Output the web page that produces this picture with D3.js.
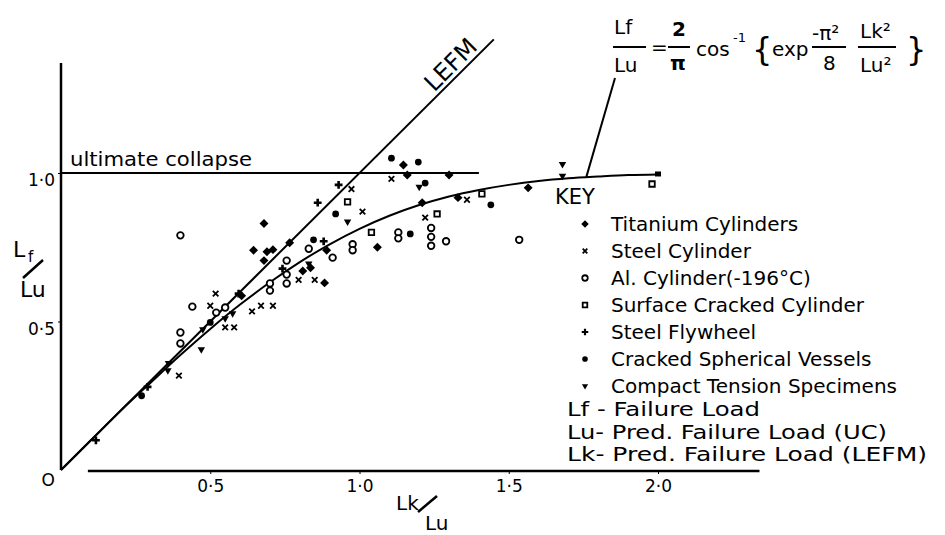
<!DOCTYPE html>
<html><head>
<meta charset="utf-8">
<title>Failure load vs predicted load</title>
<script src="https://d3js.org/d3.v7.min.js"></script>
<style>
body { margin: 0; background: #fff; }
svg { display: block; }
text { font-family: "DejaVu Sans", sans-serif; fill: #000; }
</style>
</head>
<body>
<svg id="chart" width="945" height="535"></svg>
<script>
// data (Lk/Lu, Lf/Lu)
const titanium = [[0.68,0.83],[0.645,0.74],[0.69,0.735],[0.71,0.742],[0.68,0.705],[0.605,0.587],
  [0.766,0.765],[0.89,0.74],[0.81,0.67],[0.836,0.681],[0.883,0.63],[1.06,0.75],[1.147,1.027],
  [1.16,0.993],[1.30,0.993],[1.21,0.90],[1.33,0.917],[1.565,0.95]];
const steelCyl = [[0.518,0.594],[0.50,0.553],[0.55,0.48],[0.58,0.48],[0.64,0.534],[0.67,0.553],
  [0.71,0.553],[0.395,0.318],[0.796,0.64],[0.85,0.64],[0.973,0.946],[1.01,0.87],[1.22,0.85],
  [1.36,0.91],[1.107,0.98]];
const alCyl = [[0.40,0.79],[0.44,0.55],[0.52,0.53],[0.55,0.547],[0.40,0.463],[0.40,0.426],
  [0.756,0.705],[0.756,0.658],[0.756,0.628],[0.70,0.628],[0.70,0.604],[0.83,0.745],[0.91,0.715],
  [0.977,0.76],[0.977,0.74],[1.13,0.80],[1.13,0.78],[1.24,0.815],[1.24,0.785],[1.24,0.755],
  [1.29,0.77],[1.535,0.775]];
const surfCyl = [[0.96,0.903],[1.04,0.80],[1.26,0.862],[1.41,0.93],[1.98,0.963]];
const flywheel = [[0.117,0.10],[0.29,0.28],[0.86,0.90],[0.93,0.96],[0.88,0.77],[0.595,0.594],[0.742,0.678]];
const spherical = [[0.846,0.775],[0.92,0.862],[1.44,0.893],[1.107,1.05],[1.197,1.037],[1.17,0.795],
  [0.27,0.25],[0.50,0.497],[1.22,0.966]];
const compact = [[0.575,0.527],[0.47,0.406],[0.96,0.836],[0.83,0.695],[0.36,0.36],[0.358,0.335],
  [1.68,1.03],[1.68,0.99],[1.20,0.953],[0.475,0.473],[0.55,0.51]];

// theoretical curve
const curveX = [0,0.1,0.2,0.3,0.4,0.5,0.6,0.7,0.8,0.9,1.0,1.1,1.2,1.3,1.4,1.5,1.6,1.7,1.8,1.9,2.0];
const curveY = [0,0.10,0.20,0.294,0.387,0.475,0.557,0.632,0.700,0.760,0.812,0.856,0.892,0.921,0.943,0.960,0.973,0.982,0.988,0.993,0.995];
const lefmX = [0, 1.45];
const collapseX = [0, 1.4];

const xTicks = [0.5, 1.0, 1.5, 2.0];
const yTicks = [0.5, 1.0];
const tickLabel = v => v.toFixed(1).replace(".", "·");

const keyNames = ["Titanium Cylinders", "Steel Cylinder", "Al. Cylinder(-196°C)",
  "Surface Cracked Cylinder", "Steel Flywheel", "Cracked Spherical Vessels", "Compact Tension Specimens"];
const keyNotes = ["Lf - Failure Load", "Lu- Pred. Failure Load (UC)", "Lk- Pred. Failure Load (LEFM)"];

const svg = d3.select("#chart");
const x = d3.scaleLinear().domain([0, 2]).range([61, 658]);
const y = d3.scaleLinear().domain([0, 1]).range([470, 173]);

// axes
svg.append("line").attr("x1", x(0)).attr("x2", x(0)).attr("y1", y(1.37)).attr("y2", y(0))
  .attr("stroke", "#000").attr("stroke-width", 2.5);
svg.append("line").attr("x1", x(0.09)).attr("x2", x(2.34)).attr("y1", y(0) + 1).attr("y2", y(0) + 1)
  .attr("stroke", "#000").attr("stroke-width", 2.5);

const xAxis = svg.append("g").attr("transform", `translate(0,${y(0) + 1})`)
  .call(d3.axisBottom(x).tickValues(xTicks).tickSize(3).tickFormat(tickLabel));
xAxis.select(".domain").remove();
xAxis.selectAll("line").attr("stroke", "#000");
xAxis.selectAll("text").attr("font-size", 17).attr("font-family", "DejaVu Sans").attr("dy", "0.9em");

const yAxis = svg.append("g").attr("transform", `translate(${x(0)},0)`)
  .call(d3.axisLeft(y).tickValues(yTicks).tickSize(3).tickFormat(tickLabel));
yAxis.select(".domain").remove();
yAxis.selectAll("line").attr("stroke", "#000");
yAxis.selectAll("text").attr("font-size", 17).attr("font-family", "DejaVu Sans").attr("dy", "0.75em").attr("x", -6);

svg.append("text").attr("x", x(0) - 6).attr("y", y(0) + 16).attr("text-anchor", "end")
  .attr("font-size", 17).text("O");

// axis titles
const yt = svg.append("g");
yt.append("text").attr("x", 13).attr("y", 257).attr("font-size", 22).text("L");
yt.append("text").attr("x", 28).attr("y", 262).attr("font-size", 15).text("f");
yt.append("line").attr("x1", 23).attr("y1", 278).attr("x2", 43).attr("y2", 260).attr("stroke", "#000").attr("stroke-width", 2.5);
yt.append("text").attr("x", 20).attr("y", 297).attr("font-size", 22).text("Lu");
const xt = svg.append("g");
xt.append("text").attr("x", 396).attr("y", 510).attr("font-size", 20).text("Lk");
xt.append("line").attr("x1", 418).attr("y1", 512).attr("x2", 437).attr("y2", 496).attr("stroke", "#000").attr("stroke-width", 2.5);
xt.append("text").attr("x", 425).attr("y", 530).attr("font-size", 20).text("Lu");

// reference lines
svg.append("line").attr("x1", x(collapseX[0])).attr("x2", x(collapseX[1])).attr("y1", y(1)).attr("y2", y(1))
  .attr("stroke", "#000").attr("stroke-width", 2);
svg.append("text").attr("x", 70).attr("y", 166).attr("font-size", 19)
  .attr("textLength", 182).attr("lengthAdjust", "spacingAndGlyphs").text("ultimate collapse");

svg.append("line").attr("x1", x(lefmX[0])).attr("y1", y(lefmX[0])).attr("x2", x(lefmX[1])).attr("y2", y(lefmX[1]))
  .attr("stroke", "#000").attr("stroke-width", 2);
svg.append("text").attr("transform", `translate(${x(1.25)},${y(1.27)}) rotate(-45)`)
  .attr("font-size", 24).text("LEFM");

const curve = d3.line().x(d => x(d[0])).y(d => y(d[1])).curve(d3.curveMonotoneX);
svg.append("path").datum(d3.zip(curveX, curveY)).attr("d", curve)
  .attr("fill", "none").attr("stroke", "#000").attr("stroke-width", 2);
svg.append("rect").attr("x", x(2) - 3).attr("y", y(0.995) - 3).attr("width", 6).attr("height", 5);

// leader to the curve
svg.append("line").attr("x1", 615).attr("y1", 78).attr("x2", x(1.76)).attr("y2", y(0.987))
  .attr("stroke", "#000").attr("stroke-width", 2);

// markers
const sym = {
  titanium: { t: d3.symbolSquare, s: 40, fill: "#000", stroke: "none", rot: 45 },
  steel:    { t: d3.symbolX, s: 22, fill: "none", stroke: "#000", rot: 0 },
  al:       { t: d3.symbolCircle, s: 34, fill: "#fff", stroke: "#000", rot: 0 },
  surf:     { t: d3.symbolSquare, s: 30, fill: "#fff", stroke: "#000", rot: 0 },
  fly:      { t: d3.symbolCross, s: 34, fill: "#000", stroke: "none", rot: 0 },
  sph:      { t: d3.symbolCircle, s: 36, fill: "#000", stroke: "none", rot: 0 },
  ct:       { t: d3.symbolTriangle2, s: 40, fill: "#000", stroke: "none", rot: 180 }
};
const series = [
  [titanium, sym.titanium], [steelCyl, sym.steel], [alCyl, sym.al], [surfCyl, sym.surf],
  [flywheel, sym.fly], [spherical, sym.sph], [compact, sym.ct]
];
function mark(g, st) {
  g.attr("d", d3.symbol().type(st.t).size(st.s)())
    .attr("fill", st.fill).attr("stroke", st.stroke).attr("stroke-width", 1.8);
}
series.forEach(([pts, st]) => {
  svg.append("g").selectAll("path").data(pts).join("path")
    .attr("transform", d => `translate(${x(d[0])},${y(d[1])}) rotate(${st.rot})`)
    .call(mark, st);
});

// key
const key = svg.append("g");
key.append("text").attr("x", 555).attr("y", 204).attr("font-size", 21).text("KEY");
series.forEach(([pts, st], i) => {
  const cy = 224 + i * 27;
  key.append("path")
    .attr("transform", `translate(585,${cy}) rotate(${st.rot})`)
    .call(mark, Object.assign({}, st, { s: st.s * 0.7 }));
  key.append("text").attr("x", 611).attr("y", cy + 7).attr("font-size", 20).text(keyNames[i]);
});
const noteLen = [193, 320, 360];
keyNotes.forEach((t, i) => {
  key.append("text").attr("x", 567).attr("y", [416, 439, 461][i]).attr("font-size", 19)
    .attr("textLength", noteLen[i]).attr("lengthAdjust", "spacingAndGlyphs").text(t);
});

// formula
const f = svg.append("g").attr("font-size", 20);
f.append("text").attr("x", 614).attr("y", 34).text("Lf");
f.append("line").attr("x1", 613).attr("x2", 646).attr("y1", 47).attr("y2", 47).attr("stroke", "#000").attr("stroke-width", 2);
f.append("text").attr("x", 614).attr("y", 72).text("Lu");
f.append("text").attr("x", 651).attr("y", 54).text("=");
f.append("text").attr("x", 672).attr("y", 36).attr("font-weight", "bold").text("2");
f.append("line").attr("x1", 668).attr("x2", 690).attr("y1", 47).attr("y2", 47).attr("stroke", "#000").attr("stroke-width", 2);
f.append("text").attr("x", 670).attr("y", 70).attr("font-weight", "bold").text("π");
f.append("text").attr("x", 696).attr("y", 56).text("cos");
f.append("text").attr("x", 733).attr("y", 42).attr("font-size", 13).text("-1");
f.append("text").attr("x", 752).attr("y", 60).attr("font-size", 32).text("{");
f.append("text").attr("x", 772).attr("y", 56).text("exp");
f.append("text").attr("x", 812).attr("y", 40).text("-π²");
f.append("line").attr("x1", 812).attr("x2", 846).attr("y1", 47).attr("y2", 47).attr("stroke", "#000").attr("stroke-width", 2);
f.append("text").attr("x", 823).attr("y", 70).text("8");
f.append("line").attr("x1", 858).attr("x2", 896).attr("y1", 47).attr("y2", 47).attr("stroke", "#000").attr("stroke-width", 2);
f.append("text").attr("x", 860).attr("y", 38).text("Lk²");
f.append("text").attr("x", 860).attr("y", 72).text("Lu²");
f.append("text").attr("x", 906).attr("y", 60).attr("font-size", 32).text("}");
</script>
</body>
</html>
